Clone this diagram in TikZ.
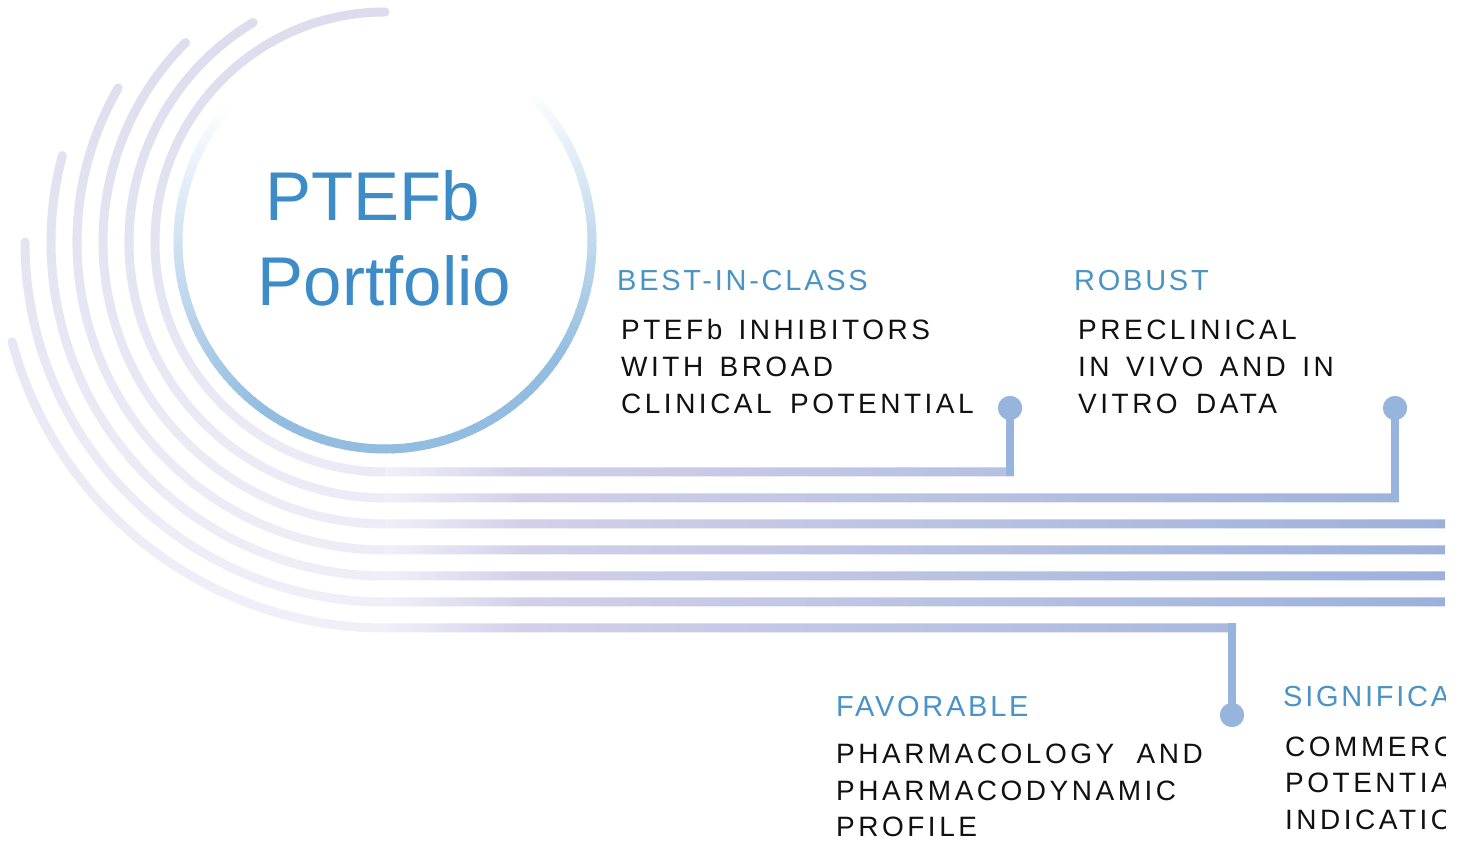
\documentclass[tikz,border=0pt]{standalone}
\usepackage{fontspec}
\usetikzlibrary{calc}
\setmainfont{Liberation Sans}
\newfontfamily\headfont[LetterSpace=9.5]{Liberation Sans}
\newfontfamily\bodyfont[LetterSpace=12.5,WordSpace=1.45]{Liberation Sans}

\definecolor{titleblue}{HTML}{3D8CC8}
\definecolor{headblue}{HTML}{4A93C6}
\definecolor{ringblue}{HTML}{93BDE0}
\definecolor{linkblue}{HTML}{97B4DC}
\definecolor{arcTop}{HTML}{DCDCED}
\definecolor{arcBot}{HTML}{F1F0F8}
\definecolor{lnB}{HTML}{D2D0E9}
\definecolor{lnC}{HTML}{9CB1DA}
\definecolor{inkblack}{HTML}{111111}

% colour ramp along the horizontal tracks (bbox maps to 25bp..75bp)
\pgfdeclarehorizontalshading{trackshade}{100bp}{%
  color(0bp)=(arcBot); color(25bp)=(arcBot); color(31.5bp)=(lnB);
  color(75bp)=(lnC); color(100bp)=(lnC)}

\tikzset{
  title/.style={font={\fontsize{69}{80}\selectfont}, text=titleblue, inner sep=0pt, anchor=base},
  head/.style={font={\headfont\fontsize{29}{34}\selectfont}, text=headblue, inner sep=0pt, anchor=base west},
  body/.style={font={\bodyfont\fontsize{28}{34}\selectfont}, text=inkblack, inner sep=0pt, anchor=base west},
  dot/.style={circle, fill=linkblue, minimum size=24pt, inner sep=0pt},
  link/.style={draw=linkblue, line width=8pt},
  ring/.style={line width=9pt, line cap=butt}
}

\begin{document}
\begin{tikzpicture}[x=1pt,y=1pt]
\useasboundingbox (0,0) rectangle (1465,843);
\fill[white] (0,0) rectangle (1465,843);
\coordinate (c) at (385,601);

% concentric tracks: curved part, with a rounded start
\shade[top color=arcTop, bottom color=arcBot]
  \foreach \r/\s in {230/90,256/121,282/135,308/150,334/165,360/180,386/195}{
    ($(c)+({\s}:{\r-4.5})$) arc[start angle=\s+180, end angle=\s+360, radius=4.5]
    arc[start angle=\s, end angle=270, radius=\r+4.5] -- ++(0,9)
    arc[start angle=270, end angle=\s, radius=\r-4.5] -- cycle
  };

% concentric tracks: straight part
\shade[shading=trackshade]
  \foreach \y/\xe in {371/1014,345/1399,319/1445,293/1445,267/1445,241/1445,215/1236}{
    (385,\y-4.5) rectangle (\xe,\y+4.5)
  };

% fading ring around the title
\foreach \a in {140,142,...,402}{
  \pgfmathsetmacro\t{100*max(0,min(1,min((\a-138)/95,(405-\a)/80)))}
  \draw[ring, draw=ringblue!\t!white] ($(c)+(\a:207)$) arc[start angle=\a, end angle=\a+2.5, radius=207];
}

\node[title] (t1) at (372.5,622) {PTEFb};
\node[title] (t2) at (384.5,537) {Portfolio};

% branch points and connectors
\node[dot] (d1) at (1010,435) {};
\node[dot] (d2) at (1395,435) {};
\node[dot] (d3) at (1232,128) {};
\coordinate (j1) at (1010,366.5);
\coordinate (j2) at (1395,340.5);
\coordinate (j3) at (1232,219.5);
\draw[link] (d1.center) -- (j1);
\draw[link] (d2.center) -- (j2);
\draw[link] (d3.center) -- (j3);
\node[dot] at (d1) {};
\node[dot] at (d2) {};
\node[dot] at (d3) {};

% labels
\node[head] (h1) at (617,552) {BEST-IN-CLASS};
\node[body] (b11) at (621,503) {PTEFb INHIBITORS};
\node[body] (b12) at (621,466) {WITH BROAD};
\node[body] (b13) at (621,429) {CLINICAL\hspace{2pt} POTENTIAL};

\node[head] (h2) at (1074,552) {ROBUST};
\node[body] (b21) at (1078,503) {PRECLINICAL};
\node[body] (b22) at (1078,466) {IN VIVO AND IN};
\node[body] (b23) at (1078,429) {VITRO\hspace{2pt} DATA};

\node[head] (h3) at (836,126) {FAVORABLE};
\node[body] (b31) at (836,79) {PHARMACOLOGY\hspace{6pt} AND};
\node[body] (b32) at (836,42.5) {PHARMACODYNAMIC};
\node[body] (b33) at (836,6) {PROFILE};

\begin{scope}
  \clip (0,0) rectangle (1445,843);
  \node[head] (h4) at (1283,136) {SIGNIFICANT};
  \node[body] (b41) at (1285,86) {COMMERCIAL};
  \node[body] (b42) at (1285,50) {POTENTIAL};
  \node[body] (b43) at (1285,13) {INDICATIONS};
\end{scope}
\end{tikzpicture}
\end{document}
